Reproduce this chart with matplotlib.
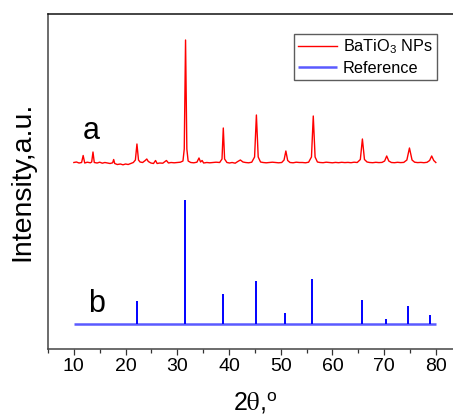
import matplotlib
matplotlib.use("Agg")
import matplotlib.pyplot as plt
from matplotlib.ticker import MultipleLocator

plt.rcParams["font.family"] = ["Liberation Sans", "DejaVu Sans"]
plt.rcParams["mathtext.fontset"] = "stix"

# ── Data (intensity in arbitrary units) ──────────────────────────────────────
# measured pattern (a), already offset above the reference
red_2theta = [
    10.0, 10.5, 11.0, 11.5, 11.8, 12.1, 12.6, 13.2, 13.45, 13.7, 13.95, 14.5,
    15.0, 15.5, 16.0, 16.5, 17.0, 17.5, 17.7, 17.9, 18.4, 19.0, 19.5, 20.0,
    20.5, 21.0, 21.5, 21.9, 22.2, 22.5, 22.8, 23.3, 23.8, 24.1, 24.4, 24.9,
    25.4, 25.8, 26.1, 26.6, 27.2, 27.9, 28.3, 28.8, 29.4, 30.0, 30.6, 31.1,
    31.35, 31.6, 31.85, 32.1, 32.6, 33.2, 33.8, 34.2, 34.5, 34.8, 35.1, 35.7,
    36.3, 36.9, 37.5, 38.2, 38.65, 38.9, 39.15, 39.6, 40.1, 40.6, 41.2, 41.7,
    42.2, 42.7, 43.2, 43.8, 44.4, 44.95, 45.3, 45.65, 46.1, 46.6, 47.2, 47.8,
    48.4, 49.0, 49.6, 50.2, 50.65, 51.0, 51.35, 51.8, 52.4, 53.0, 53.6, 54.2,
    54.8, 55.4, 55.95, 56.3, 56.65, 57.1, 57.6, 58.2, 58.8, 59.4, 60.0, 60.6,
    61.2, 61.8, 62.4, 63.0, 63.6, 64.2, 64.8, 65.4, 65.8, 66.2, 66.7, 67.2,
    67.8, 68.4, 69.0, 69.6, 70.1, 70.5, 70.9, 71.4, 72.0, 72.6, 73.2, 73.8,
    74.4, 74.9, 75.4, 75.9, 76.5, 77.1, 77.7, 78.3, 78.8, 79.2, 79.6, 80.0,
]
red_int = [
    186.5, 187.0, 186.0, 186.5, 193.5, 186.0, 186.8, 186.2, 187.0, 197.0, 186.5, 186.0,
    186.8, 185.8, 186.5, 186.0, 185.5, 186.2, 189.5, 185.5, 184.5, 185.0, 184.2, 185.0,
    184.5, 185.5, 186.5, 189.0, 205.0, 189.0, 187.0, 186.5, 188.5, 190.0, 187.5, 186.0,
    185.5, 188.5, 185.5, 186.0, 185.8, 188.5, 186.0, 186.5, 186.2, 186.5, 186.8, 188.0,
    200.0, 309.0, 200.0, 188.0, 186.5, 186.2, 186.8, 191.0, 187.0, 188.5, 186.0, 186.5,
    186.2, 186.5, 186.8, 186.5, 190.0, 221.0, 190.0, 186.5, 186.0, 186.5, 185.8, 187.5,
    189.0, 187.0, 186.5, 186.2, 186.8, 192.0, 234.0, 192.0, 187.0, 186.5, 186.2, 186.5,
    186.8, 186.5, 186.2, 186.5, 189.0, 198.0, 188.5, 186.5, 186.2, 186.8, 186.5, 186.5,
    186.2, 186.8, 192.0, 233.0, 192.0, 187.0, 186.5, 186.3, 186.8, 186.5, 186.2, 186.6,
    186.3, 186.7, 186.4, 186.6, 186.3, 186.8, 186.5, 189.5, 210.0, 189.5, 187.0, 186.5,
    186.3, 186.7, 186.4, 186.6, 188.0, 193.0, 188.0, 186.5, 186.3, 186.7, 186.4, 186.6,
    189.0, 201.0, 189.0, 186.8, 186.4, 186.6, 186.3, 186.7, 188.5, 193.0, 188.5, 186.5,
]

# reference stick pattern (b)
ref_baseline = 25.0
ref_range = [10, 80]
ref_2theta = [22.2, 31.5, 38.9, 45.2, 50.9, 56.1, 65.7, 70.3, 74.7, 78.9]
ref_int = [23.0, 124.0, 30.0, 42.7, 11.0, 44.7, 23.7, 4.7, 18.0, 8.7]

# ── Figure ───────────────────────────────────────────────────────────────────
W, H = 453, 416
fig = plt.figure(figsize=(W / 100, H / 100), dpi=100)
x0, x1 = 5, 85
px_per_unit = 5.171
ax_w = (x1 - x0) * px_per_unit
ax = fig.add_axes([48 / W, (H - 349) / H, ax_w / W, (349 - 14) / H])

ax.plot(red_2theta, red_int, color="#ff0000", lw=1.0, label=r"BaTiO$_\mathregular{3}$ NPs")
ax.plot(ref_range, [ref_baseline, ref_baseline], color="#5a5aff", lw=1.8,
        label="Reference", solid_capstyle="butt")
ax.vlines(ref_2theta, ref_baseline,
          [ref_baseline + v for v in ref_int], color="#0000ff", lw=1.4)

ax.set_xlim(x0, x1)
ax.set_ylim(0, 335)
ax.set_yticks([])
ax.xaxis.set_major_locator(MultipleLocator(10))
ax.xaxis.set_minor_locator(MultipleLocator(5))
ax.tick_params(axis="x", which="major", direction="out", length=4.5, width=0.9,
               labelsize=14, pad=2, color="#333333")
ax.tick_params(axis="x", which="minor", direction="out", length=2.8, width=0.9,
               color="#333333")
for side in ["left", "bottom", "top", "right"]:
    ax.spines[side].set_linewidth(1.1)
    ax.spines[side].set_color("#444444")
ax.spines["top"].set_color("#111111")

ax.text(83 / W, 1 - 139 / H, "a", transform=fig.transFigure, fontsize=22,
        ha="left", va="baseline")
ax.text(88 / W, 1 - 312 / H, "b", transform=fig.transFigure, fontsize=22,
        ha="left", va="baseline")

fig.text(22 / W, 1 - 181 / H, "Intensity,a.u.", rotation=90, fontsize=20.5,
         ha="center", va="center")
fig.text(255 / W, 1 - 403 / H, r"2$\mathrm{\theta}$,$^\mathregular{o}$", fontsize=18,
         ha="center", va="center")

leg = ax.legend(loc="upper right", bbox_to_anchor=(437 / W, 1 - 34 / H),
                bbox_transform=fig.transFigure, borderaxespad=0,
                fontsize=11.7, handlelength=2.35, handletextpad=0.4,
                borderpad=0.25, labelspacing=0.3, frameon=True, fancybox=False)
leg.get_frame().set_edgecolor("#333333")
leg.get_frame().set_linewidth(1.0)

fig.savefig("out.png", dpi=100, facecolor="white")
